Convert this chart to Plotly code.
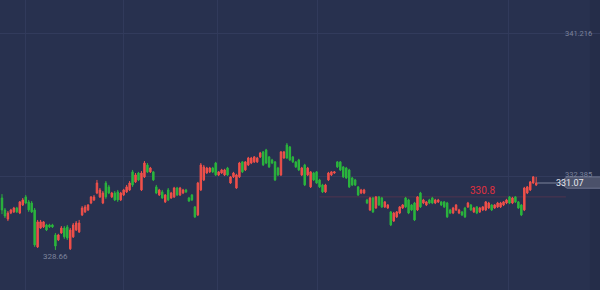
import plotly.graph_objects as go

# ---- data (prices) ----
opens = [330.53,330.10,329.77,329.99,330.03,330.17,329.99,330.28,330.57,330.39,330.35,330.10,328.77,329.45,329.49,329.56,329.56,329.56,329.20,329.02,
         329.27,329.45,329.49,328.70,329.13,329.38,329.31,329.92,330.03,330.10,330.35,330.46,330.71,330.57,330.35,331.07,330.93,330.57,330.71,330.75,
         330.46,330.64,330.75,330.82,331.47,331.11,331.43,330.82,331.29,331.72,331.47,331.47,
         330.93,330.64,330.75,330.39,330.82,330.53,
         330.57,330.89,330.64,330.71,330.82,330.53,330.64,
         330.21,329.92,330.82,331.18,331.43,331.47,331.61,331.79,331.36,331.43,331.36,
         331.61,331.07,331.29,330.89,331.29,331.83,331.54,331.72,
         331.79,331.83,331.83,332.01,332.19,332.26,332.01,331.90,331.83,331.61,331.36,331.97,332.44,332.37,332.01,331.83,331.90,331.36,331.72,331.36,
         330.93,331.43,331.47,331.18,331.00,330.75,331.18,331.36,331.43,331.83,331.83,331.65,331.61,331.54,331.25,331.18,330.93,330.71,330.71,330.46,
         330.10,330.53,330.17,330.57,330.53,330.21,
         330.17,330.03,329.70,329.85,329.99,330.17,330.53,330.46,330.28,330.35,330.10,330.71,330.35,
         330.28,330.46,330.53,330.35,
         330.39,330.39,330.39,330.35,330.10,329.99,330.10,329.99,330.03,330.17,330.21,330.28,330.03,330.21,330.03,
         330.10,330.10,330.17,330.28,330.17,
         330.21,330.21,330.28,330.35,330.57,330.35,330.57,330.39,330.28,330.10,330.71,330.82,331.07,331.00]
highs = [330.67,330.17,330.06,330.14,330.21,330.21,330.42,330.53,330.64,330.46,330.42,330.17,329.74,329.74,329.70,329.60,329.60,329.60,329.27,329.24,
         329.52,329.52,329.56,329.45,329.63,329.70,329.74,330.24,330.28,330.31,330.60,330.64,331.18,330.89,330.78,331.14,331.00,330.75,330.78,330.82,
         330.75,330.86,331.00,331.14,331.54,331.43,331.47,331.50,331.86,331.79,331.65,331.50,
         331.00,330.86,330.82,330.67,330.89,330.75,
         330.93,330.93,330.93,330.86,330.86,330.57,330.67,
         330.24,331.11,331.79,331.72,331.65,331.65,331.65,331.83,331.50,331.58,331.58,
         331.65,331.32,331.47,331.40,331.83,331.86,331.86,332.01,
         332.01,332.04,332.01,332.19,332.22,332.30,332.04,331.94,331.86,331.65,332.22,332.22,332.51,332.40,332.04,331.86,331.94,331.65,331.76,331.65,
         331.50,331.47,331.50,331.22,331.04,331.04,331.47,331.50,331.50,331.86,331.86,331.68,331.65,331.58,331.29,331.22,330.96,330.86,330.86,330.50,
         330.57,330.57,330.60,330.60,330.57,330.42,
         330.31,330.06,330.03,330.06,330.24,330.31,330.57,330.50,330.31,330.39,330.60,330.75,330.50,
         330.42,330.50,330.57,330.50,
         330.50,330.42,330.42,330.39,330.14,330.21,330.31,330.14,330.06,330.21,330.39,330.31,330.21,330.24,330.21,
         330.24,330.42,330.39,330.31,330.31,
         330.39,330.39,330.42,330.50,330.60,330.57,330.60,330.42,330.31,330.93,330.96,331.14,331.32,331.29]
lows = [329.95,329.81,329.70,329.95,329.99,329.99,329.95,330.24,330.31,330.03,329.99,328.77,328.73,329.42,329.45,329.34,329.45,329.45,328.66,328.98,
        329.24,329.06,329.02,328.66,329.09,329.34,329.27,329.88,329.99,330.06,330.31,330.42,330.67,330.53,330.31,330.50,330.67,330.53,330.42,330.39,
        330.42,330.60,330.71,330.78,330.93,331.07,331.14,330.78,331.25,331.43,331.43,331.14,
        330.67,330.60,330.50,330.35,330.42,330.50,
        330.53,330.60,330.60,330.67,330.71,330.39,330.42,
        329.81,329.88,330.78,331.14,331.40,331.43,331.43,331.32,331.32,331.40,331.32,
        331.32,331.04,331.25,330.86,331.25,331.43,331.50,331.68,
        331.75,331.79,331.79,331.97,331.68,331.75,331.61,331.75,331.14,331.32,331.32,331.94,331.94,331.86,331.79,331.61,331.50,331.32,330.96,331.32,
        330.89,331.14,331.04,330.89,330.71,330.71,331.14,331.32,331.40,331.61,331.50,331.25,331.22,330.89,330.96,330.96,330.60,330.67,330.67,330.31,
        330.06,329.99,330.14,330.24,330.17,330.17,
        330.14,329.52,329.67,329.81,329.95,330.14,330.17,329.95,330.06,329.70,330.06,330.17,330.31,
        330.24,330.31,330.31,330.31,
        330.35,330.24,330.17,329.81,329.95,329.95,330.06,329.95,329.88,329.81,330.17,330.06,329.99,329.95,329.99,
        330.06,330.06,330.14,330.06,330.14,
        330.17,330.17,330.24,330.31,330.31,330.31,330.35,330.14,329.88,330.06,330.67,330.78,331.04,330.96]
closes = [330.10,329.88,329.99,330.10,330.17,330.03,330.39,330.46,330.35,330.10,330.03,328.84,329.67,329.67,329.67,329.38,329.49,329.49,328.80,329.20,
          329.45,329.13,329.09,329.38,329.56,329.63,329.63,330.17,330.21,330.28,330.57,330.57,331.07,330.82,330.71,330.57,330.71,330.71,330.46,330.46,
          330.71,330.82,330.93,331.07,331.00,331.36,331.18,331.43,331.79,331.47,331.61,331.18,
          330.71,330.82,330.53,330.64,330.46,330.71,
          330.89,330.64,330.89,330.82,330.75,330.42,330.46,
          329.85,331.07,331.72,331.65,331.61,331.61,331.47,331.36,331.47,331.54,331.54,
          331.36,331.29,331.43,331.36,331.79,331.47,331.83,331.97,
          331.97,332.01,331.97,332.15,331.72,331.79,331.65,331.79,331.18,331.36,332.19,332.19,331.97,331.90,331.83,331.65,331.54,331.61,331.00,331.61,
          331.47,331.18,331.07,330.93,330.75,331.00,331.43,331.47,331.47,331.65,331.54,331.29,331.25,330.93,331.00,331.00,330.64,330.82,330.82,330.35,
          330.53,330.03,330.57,330.28,330.21,330.39,
          330.28,329.56,329.99,330.03,330.21,330.28,330.21,329.99,330.10,329.74,330.57,330.21,330.46,
          330.39,330.35,330.35,330.46,
          330.46,330.28,330.21,329.85,329.99,330.17,330.28,330.10,329.92,329.85,330.35,330.10,330.17,329.99,330.17,
          330.21,330.39,330.35,330.10,330.28,
          330.35,330.35,330.39,330.46,330.35,330.53,330.39,330.17,329.92,330.89,330.93,331.11,331.29,331.07]

grid_labels = ["341.216", "332.385"]
grid_values = [336.47, 331.32]
vgrid_idx = [7.8, 40.8, 72.5, 106.2, 170.5]
marker_price = 330.8
marker_label = "330.8"

BG = "#28314f"
RED = "#f0504a"
GREEN = "#2bb63d"
GRAY = "#7d849c"

n = len(closes)
idx = list(range(n))
last_close = closes[-1]
lo_i = min(range(n), key=lambda i: lows[i])

fig = go.Figure(go.Candlestick(
    x=idx, open=opens, high=highs, low=lows, close=closes,
    increasing=dict(line=dict(color=RED, width=1), fillcolor=RED),
    decreasing=dict(line=dict(color=GREEN, width=1), fillcolor=GREEN),
    whiskerwidth=0, hoverinfo="skip",
))

shapes = [
    dict(type="rect", xref="paper", yref="paper", x0=0.983, x1=1, y0=0, y1=1,
         fillcolor="rgba(0,0,0,0.07)", line_width=0, layer="below"),
    dict(type="line", xref="x", yref="y", x0=107, x1=190, y0=330.57, y1=330.57,
         line=dict(color="rgba(200,60,80,0.25)", width=1), layer="below"),
    dict(type="line", xref="x", yref="y", x0=n - 1 + 0.3, x1=187.5, y0=last_close, y1=last_close,
         line=dict(color=GRAY, width=1)),
    dict(type="path", xref="paper", yref="paper",
         path="M 0.932 0.37 L 0.945 0.39 L 1.01 0.39 L 1.01 0.351 L 0.945 0.351 Z",
         fillcolor="rgba(78,85,110,0.92)", line=dict(color="#6e7590", width=1)),
]

annotations = [
    dict(x=lo_i, y=lows[lo_i], xref="x", yref="y", text=f"{lows[lo_i]:.2f}", showarrow=False,
         yshift=-7, yanchor="middle", font=dict(family="Roboto", size=8, color=GRAY)),
    dict(x=162, y=marker_price, xref="x", yref="y", text=marker_label, showarrow=False,
         yanchor="middle", font=dict(family="Roboto", size=10, color="#e0303f")),
    dict(x=0.977, y=last_close, xref="paper", yref="y", text=f"{last_close:.2f}", showarrow=False,
         xanchor="right", yanchor="middle", font=dict(family="Roboto", size=9, color="#e6e8ef")),
]
for lab, val, dy in zip(grid_labels, grid_values, [0, 2]):
    annotations.append(dict(x=0.99, y=val, xref="paper", yref="y", text=lab, showarrow=False,
                            xanchor="right", yanchor="middle", yshift=dy,
                            font=dict(family="Roboto", size=7.5, color=GRAY)))

fig.update_layout(
    width=600, height=290, margin=dict(l=0, r=0, t=0, b=0),
    paper_bgcolor=BG, plot_bgcolor=BG, showlegend=False,
    shapes=shapes, annotations=annotations,
    xaxis=dict(range=[-0.67, 201.5], rangeslider=dict(visible=False), showticklabels=False,
               tickvals=vgrid_idx, gridcolor="#313a5b", gridwidth=1, zeroline=False, showline=False),
    yaxis=dict(range=[327.218, 337.658], showticklabels=False,
               tickvals=grid_values, gridcolor="#323b5c", zeroline=False, showline=False),
)

fig.write_html("out.html")
